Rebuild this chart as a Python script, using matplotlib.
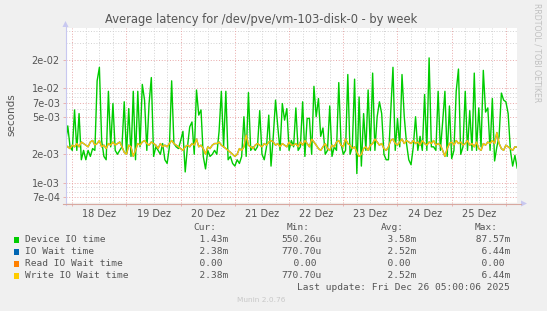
import matplotlib
matplotlib.use("Agg")
import matplotlib.pyplot as plt
import numpy as np
from matplotlib.patches import Rectangle, Polygon
from matplotlib.lines import Line2D

# ---------------- data ----------------
title = "Average latency for /dev/pve/vm-103-disk-0 - by week"
day_labels = ["18 Dez", "19 Dez", "20 Dez", "21 Dez", "22 Dez", "23 Dez", "24 Dez", "25 Dez"]
ytick_vals = [7e-4, 1e-3, 2e-3, 5e-3, 7e-3, 1e-2, 2e-2]
ytick_labels = ["7e-04", "1e-03", "2e-03", "5e-03", "7e-03", "1e-02", "2e-02"]
major_grid_vals = [7e-4, 1e-3, 2e-3, 3e-3, 5e-3, 7e-3, 1e-2, 2e-2]
minor_grid_vals = [8e-4, 9e-4, 4e-3, 6e-3, 8e-3, 9e-3, 3e-2, 4e-2]

# hourly samples, starting Dec 17 21:00 (days relative to Dec 18 00:00)
start_day = -0.125
step_day = 1 / 24

device_io_ms = [
    # Dec 17 21:00 .. Dec 19 23:00
    2.6, 4.0, 2.4, 2.2, 5.9, 2.2, 5.4, 1.75, 2.2, 1.75, 2.2, 1.9, 2.3, 2.2, 12.0, 16.7,
    2.8, 1.9, 1.75, 9.3, 2.4, 6.9, 2.2, 2.0, 2.2, 2.4, 7.2, 2.0, 6.1, 1.9, 9.3, 1.75,
    9.3, 2.4, 11.0, 7.5, 2.2, 6.9, 13.0, 1.9, 2.4, 2.2, 2.0, 2.6, 1.75, 1.6, 2.4, 12.0,
    2.6, 2.4, 2.3,
    2.8, 3.5, 1.3, 2.4, 3.9, 4.4, 2.0, 9.6, 5.2, 5.9, 1.9, 1.4, 2.2, 1.9, 2.0, 2.2,
    2.0, 3.5, 9.3, 2.4, 9.3, 1.75, 1.9, 1.6, 1.5, 1.75, 1.6, 1.9, 5.0, 1.9, 9.0, 2.2,
    2.4, 2.2, 2.4, 5.8, 2.0, 1.75, 2.4, 5.2, 1.5, 3.1, 7.5, 3.9, 2.2, 6.9, 4.6, 6.1,
    2.2, 2.8,
    2.4, 6.2, 2.2, 2.4, 7.2, 1.9, 4.8, 4.8, 2.0, 10.5, 5.0, 7.8, 3.1, 3.8, 2.0, 2.2,
    6.5, 1.9, 2.4, 2.2, 11.5, 2.6, 2.0, 2.2, 14.0, 2.0, 2.4, 12.5, 1.25, 8.1, 1.5, 5.4,
    2.2, 9.6, 2.2, 14.5, 2.2, 5.0, 7.2, 5.4, 2.0, 1.75, 1.75, 5.6, 16.7, 2.2, 4.8, 2.4,
    14.0, 5.0,
    2.6, 1.75, 1.55, 2.4, 5.0, 2.2, 3.1, 2.2, 8.6, 2.2, 21.0, 2.4, 2.4, 2.2, 9.3, 2.2,
    4.4, 9.3, 1.9, 6.5, 1.8, 2.2, 9.3, 16.0, 2.0, 2.4, 9.3, 2.2, 5.8, 2.2, 14.5, 2.2,
    6.2, 2.4, 15.5, 5.6, 6.2, 2.2, 7.8, 1.7, 2.4, 3.1, 8.9, 7.5, 7.2, 5.4, 2.2, 1.5,
    1.95, 1.43,
]

write_wait_ms = [
    2.5, 2.4, 2.3, 2.5, 2.4, 2.6, 2.4, 2.7, 2.6, 2.5, 2.4, 2.7, 2.8, 2.5, 2.6, 2.8,
    2.4, 2.5, 2.3, 2.6, 2.5, 2.7, 2.5, 2.6, 2.7, 2.4, 2.1, 2.0, 2.5, 2.4, 1.9, 2.2,
    2.6, 2.5, 2.7, 2.8, 2.6, 2.5, 2.7, 2.6, 2.5, 2.3, 2.6, 2.4, 2.5, 2.4, 2.6, 2.8,
    2.6, 2.5, 2.4,
    2.3, 2.2, 2.4, 2.5, 2.4, 2.6, 2.5, 2.9, 2.4, 2.5, 2.3, 2.0, 2.4, 2.3, 2.5, 2.6,
    2.6, 2.7, 2.5, 2.4, 2.3, 2.2, 2.1, 2.0, 1.9, 2.0, 2.3, 2.2, 2.4, 3.2, 2.5, 2.4,
    2.3, 2.5, 2.6, 2.5, 2.4, 2.6, 2.5, 2.7, 2.8, 2.7, 2.5, 2.6, 2.4, 2.6, 2.5, 2.4,
    2.7, 2.5,
    2.5, 2.6, 2.4, 2.7, 2.5, 2.8, 2.6, 2.4, 2.9, 2.7, 2.5, 2.3, 2.2, 2.4, 2.6, 2.3,
    2.2, 2.5, 2.4, 2.7, 2.8, 2.5, 2.4, 2.9, 2.6, 2.5, 2.3, 2.4, 2.1, 1.9, 2.0, 2.3,
    2.4, 2.2, 2.5, 2.6, 2.9, 2.7, 2.5, 2.6, 2.3, 2.2, 2.4, 2.8, 2.9, 2.6, 2.5, 2.7,
    2.9, 2.6,
    2.8, 2.7, 2.6, 2.8, 2.6, 2.7, 2.5, 2.8, 2.6, 2.5, 2.7, 2.6, 2.8, 2.5, 2.6, 2.5,
    2.2, 1.9, 2.3, 2.6, 2.7, 2.5, 2.8, 2.6, 2.7, 2.5, 2.6, 2.8, 2.5, 2.6, 2.4, 2.7,
    2.3, 2.2, 2.6, 2.5, 2.7, 2.6, 2.8, 2.6, 3.4, 2.6, 2.3, 2.2, 2.5, 2.4, 2.3, 2.2,
    2.4, 2.38,
]
io_wait_ms = list(write_wait_ms)
read_wait_ms = [0.0] * len(write_wait_ms)

legend_names = ["Device IO time", "IO Wait time", "Read IO Wait time", "Write IO Wait time"]
legend_colors = ["#00CC00", "#0066B3", "#FF8000", "#FFCC00"]
cur_vals = ["  1.43m", "  2.38m", "  0.00 ", "  2.38m"]
min_vals = ["550.26u", "770.70u", "  0.00 ", "770.70u"]
avg_vals = ["  3.58m", "  2.52m", "  0.00 ", "  2.52m"]
max_vals = [" 87.57m", "  6.44m", "  0.00 ", "  6.44m"]
last_update = "Last update: Fri Dec 26 05:00:06 2025"

# ---------------- figure ----------------
W, H = 547, 311
fig = plt.figure(figsize=(W / 100, H / 100), dpi=100, facecolor="#F0F0F0")


def fx(x):
    return x / W


def fy(y):
    return 1 - y / H


left, right, top, bottom = 66, 517, 28, 203
ax = fig.add_axes([fx(left), fy(bottom), (right - left) / W, (bottom - top) / H])
ax.set_facecolor("white")
ax.set_yscale("log", nonpositive="clip")
ylo, yhi = 10 ** -3.215, 10 ** -1.361
ax.set_ylim(ylo, yhi)
xlo, xhi = -0.116, 8.205
ax.set_xlim(xlo, xhi)

n = len(device_io_ms)
x = start_day + step_day * np.arange(n)
dev = np.array(device_io_ms) / 1000
iow = np.array(io_wait_ms) / 1000
rdw = np.array(read_wait_ms)
wrw = np.array(write_wait_ms) / 1000

major_c = "#E8A8A8"
minor_c = "#D2D2D2"
dots = (0, (1, 1.8))
for v in minor_grid_vals:
    ax.axhline(v, color=minor_c, lw=0.7, ls=dots, zorder=0)
for v in major_grid_vals:
    ax.axhline(v, color=major_c, lw=0.7, ls=dots, zorder=0.5)
for k in range(0, 9 * 4):
    d = k / 4
    if d > xhi:
        break
    if k % 4 == 0:
        ax.axvline(d, color=major_c, lw=0.7, ls=dots, zorder=0.5)
    else:
        ax.axvline(d, color=minor_c, lw=0.7, ls=dots, zorder=0)

ax.plot(x, dev, color=legend_colors[0], lw=1.0, zorder=3)
ax.plot(x, iow, color=legend_colors[1], lw=1.0, zorder=4)
ax.plot(x, np.where(rdw > 0, rdw, ylo), color=legend_colors[2], lw=0.8, alpha=0.6, zorder=5)
ax.plot(x, wrw, color=legend_colors[3], lw=1.0, zorder=6)

for s in ax.spines.values():
    s.set_visible(False)

ax.set_yticks(ytick_vals)
ax.set_yticklabels(ytick_labels)
ax.yaxis.set_minor_locator(matplotlib.ticker.NullLocator())
ax.tick_params(axis="y", which="major", length=2.5, width=0.6, color=major_c,
               labelsize=7, labelcolor="#555555", pad=2)
ax.set_xticks(range(0, 9))
ax.set_xticklabels([])
ax.set_xticks([d + 0.5 for d in range(8)], minor=True)
ax.set_xticklabels(day_labels, minor=True)
ax.tick_params(axis="x", which="major", length=2.5, width=0.6, color=major_c)
ax.tick_params(axis="x", which="minor", length=0, labelsize=7, labelcolor="#555555", pad=4)

# axis lines with arrows
axis_c = "#C8C8F0"
fig.add_artist(Line2D([fx(65.5), fx(65.5)], [fy(205), fy(26)], color=axis_c, lw=0.8))
fig.add_artist(Line2D([fx(63), fx(521)], [fy(203.5), fy(203.5)], color="#D8A8A0", lw=0.8))
fig.add_artist(Polygon([[fx(62.5), fy(27)], [fx(68.5), fy(27)], [fx(65.5), fy(21)]],
                       closed=True, color=axis_c, lw=0))
fig.add_artist(Polygon([[fx(521), fy(200.5)], [fx(521), fy(206.5)], [fx(527), fy(203.5)]],
                       closed=True, color=axis_c, lw=0))

# texts
fig.text(fx(261.5), fy(19), title, ha="center", va="center", fontsize=8.3, color="#555555")
fig.text(fx(11), fy(115), "seconds", ha="center", va="center", rotation=90,
         fontsize=7.5, color="#555555")
fig.text(fx(537), fy(53), "RRDTOOL / TOBI OETIKER", ha="center", va="center",
         rotation=270, fontsize=5.6, color="#C0C0C0")
fig.text(fx(261), fy(300.5), "Munin 2.0.76", ha="center", va="center",
         fontsize=5.3, color="#C8C8C8")

mono = "DejaVu Sans Mono"
fs = 6.8
tc = "#555555"
hdr_y = 227.3
for lab, xx in zip(["Cur:", "Min:", "Avg:", "Max:"], [193, 287, 381, 475]):
    fig.text(fx(xx), fy(hdr_y), lab, ha="left", va="center", fontsize=fs, family=mono, color=tc)

row_y = [239.7, 251.7, 263.7, 275.7]
for i, name in enumerate(legend_names):
    y = row_y[i]
    fig.add_artist(Rectangle((fx(13.5), fy(y + 2.8)), 5.6 / W, 5.6 / H,
                             facecolor=legend_colors[i], edgecolor="none"))
    fig.text(fx(25), fy(y), name, ha="left", va="center", fontsize=fs, family=mono, color=tc)
    for vals, xx in zip([cur_vals, min_vals, avg_vals, max_vals], [188, 281.5, 375.5, 469.5]):
        fig.text(fx(xx), fy(y), vals[i], ha="left", va="center", fontsize=fs,
                 family=mono, color=tc)

fig.text(fx(509.5), fy(287.7), last_update, ha="right", va="center", fontsize=fs,
         family=mono, color=tc)

fig.savefig("out.png", dpi=100, facecolor=fig.get_facecolor())
